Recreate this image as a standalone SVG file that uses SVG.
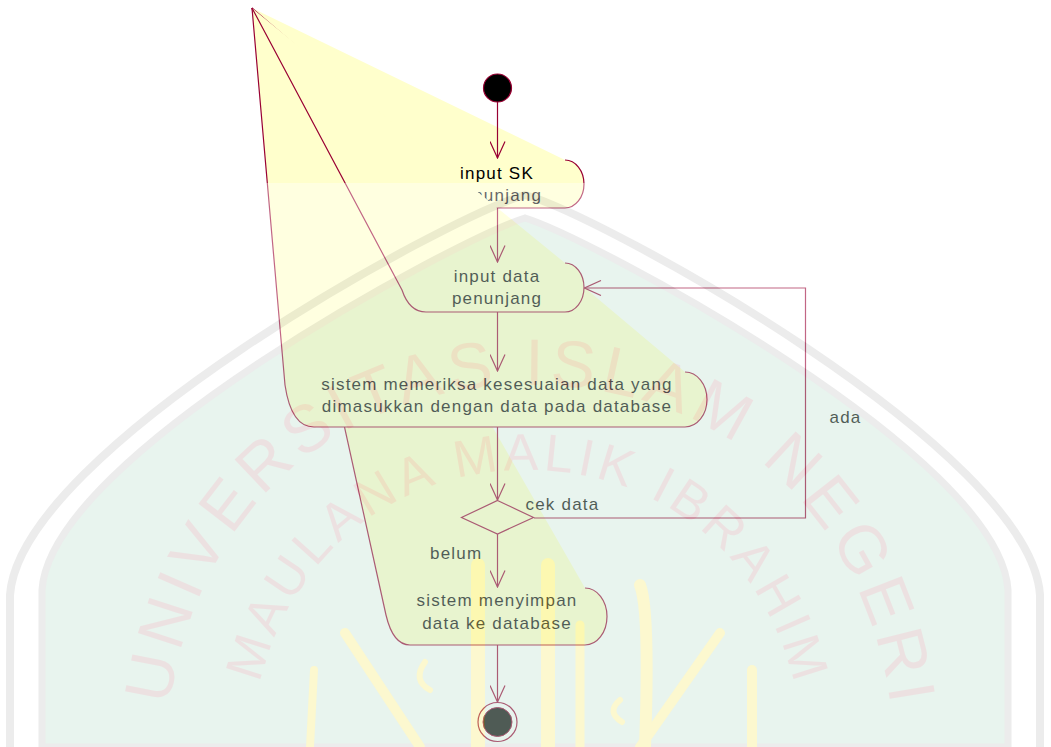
<svg xmlns="http://www.w3.org/2000/svg" width="1051" height="747" viewBox="0 0 1051 747">
<defs>
<style>
.act{fill:#FFFFCC;stroke:#990033;stroke-width:1.2}
.lbl{font-family:"Liberation Sans",Arial,sans-serif;font-size:17px;letter-spacing:1.2px;fill:#000}
.mid{text-anchor:middle}
.con{fill:none;stroke:#990033;stroke-width:1.2}
.wmt{font-family:"Liberation Sans",Arial,sans-serif;fill:#D2B6B6}
.cal{fill:none;stroke:#F8EE8A;stroke-linecap:round}
</style>
<marker id="arr" viewBox="0 0 18 16" refX="17" refY="8" markerWidth="18" markerHeight="16" markerUnits="userSpaceOnUse" orient="auto">
<path d="M0.5,0.5 L17,8 L0.5,15.5" fill="none" stroke="#990033" stroke-width="1.2"/>
</marker>
<path id="wmOuter" d="M 165,747 C 180,515 335,385 530,385 C 725,385 880,515 895,747"/>
<path id="wmInner" d="M 250,747 C 262,570 385,470 527,470 C 669,470 792,570 804,747"/>
</defs>
<rect width="1051" height="747" fill="#FFFFFF"/>

<g id="act4">
<path class="act" d="M 585,588 A 22 28.5 0 0 1 607,616.5 A 22 28.5 0 0 1 585,645 L 410,645 C 397,645 390,632 386,615 L 252,8"/>
<text class="lbl mid" x="497" y="606">sistem menyimpan</text>
<text class="lbl mid" x="497" y="628.5">data ke database</text>
</g>
<g id="act3">
<path class="act" d="M 685,372 A 22 27.5 0 0 1 707,399.5 A 22 27.5 0 0 1 685,427 L 314,427 C 298,427 289,412 285,385 L 252,8"/>
<text class="lbl mid" x="497" y="390">sistem memeriksa kesesuaian data yang</text>
<text class="lbl mid" x="497" y="412">dimasukkan dengan data pada database</text>
</g>
<g id="act1">
<path class="act" d="M 565,160 A 19 24 0 0 1 584,184 A 19 24 0 0 1 565,208 L 485,208 L 252,8"/>
<text class="lbl mid" x="497" y="179">input SK</text>
<text class="lbl mid" x="497" y="201">penunjang</text>
</g>
<g id="act2">
<path class="act" d="M 565,263 A 19 24.5 0 0 1 584,287.5 A 19 24.5 0 0 1 565,312 L 426,312 C 413,312 406,302 402,290 L 252,8"/>
<text class="lbl mid" x="497" y="282">input data</text>
<text class="lbl mid" x="497" y="304">penunjang</text>
</g>
<g id="decision">
<path class="act" d="M 497.5,500.5 L 533.5,517.5 L 497.5,534 L 461.5,517.5 Z"/>
<text class="lbl" x="525.5" y="509.5">cek data</text>
</g>
<g id="start">
<circle cx="497.5" cy="88" r="14" fill="#000" stroke="#990033" stroke-width="1.2"/>
</g>
<g id="end">
<circle cx="497.5" cy="722" r="19.5" fill="none" stroke="#990033" stroke-width="1.2"/>
<circle cx="497.5" cy="722" r="14.5" fill="#000" stroke="#990033" stroke-width="1"/>
</g>
<g id="connectors">
<path class="con" marker-end="url(#arr)" d="M 497.5,102 L 497.5,158"/>
<path class="con" marker-end="url(#arr)" d="M 497.5,208 L 497.5,262"/>
<path class="con" marker-end="url(#arr)" d="M 497.5,312 L 497.5,371"/>
<path class="con" marker-end="url(#arr)" d="M 497.5,427 L 497.5,500"/>
<path class="con" marker-end="url(#arr)" d="M 497.5,534 L 497.5,587"/>
<path class="con" marker-end="url(#arr)" d="M 497.5,645 L 497.5,702"/>
<path class="con" marker-end="url(#arr)" d="M 534,518 L 805.5,518 L 805.5,288 L 584.5,288"/>
<text class="lbl" x="430" y="558.5">belum</text>
<text class="lbl" x="829.5" y="423">ada</text>
</g>

<g id="watermark" opacity="0.4">
<rect x="0" y="183" width="1051" height="564" fill="#FFFFFF"/>
<path d="M 42,747 L 42,590 C 50,455 460,238 525,218 C 590,238 1000,455 1008,590 L 1008,747 Z" fill="#C6E4D5" stroke="#D0D0D0" stroke-width="7"/>
<path d="M 10,747 L 10,595 C 20,450 450,215 525,195 C 600,215 1030,450 1040,595 L 1040,747" fill="none" stroke="#D0D0D0" stroke-width="8"/>
<text class="wmt" font-size="66" text-anchor="middle"><textPath href="#wmOuter" startOffset="50%" textLength="1060" lengthAdjust="spacing">UNIVERSITAS ISLAM NEGERI</textPath></text>
<text class="wmt" font-size="52" text-anchor="middle"><textPath href="#wmInner" startOffset="50%" textLength="740" lengthAdjust="spacing">MAULANA MALIK IBRAHIM</textPath></text>
<g class="cal">
<path stroke-width="8" d="M 314,670 L 310,747"/>
<path stroke-width="10" d="M 345,633 L 420,747"/>
<path stroke-width="14" d="M 478,565 L 478,747"/>
<path stroke-width="14" d="M 548,565 L 548,747"/>
<path stroke-width="9" d="M 580,625 L 580,747"/>
<path stroke-width="12" d="M 640,585 Q 650,610 645,747"/>
<path stroke-width="10" d="M 720,633 L 640,747"/>
<path stroke-width="10" d="M 752,670 L 752,747"/>
<path stroke-width="6" d="M 425,662 Q 412,680 430,690"/>
<path stroke-width="6" d="M 620,700 Q 606,712 622,722"/>
</g>
</g>
</svg>
